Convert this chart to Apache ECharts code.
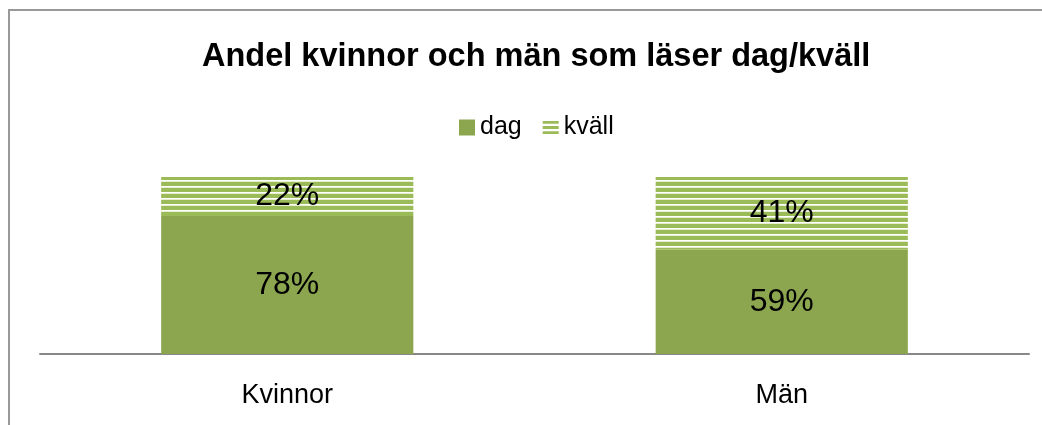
<!DOCTYPE html>
<html>
<head>
<meta charset="utf-8">
<script src="https://cdn.jsdelivr.net/npm/echarts@6/dist/echarts.min.js"></script>
<style>
html,body{margin:0;padding:0;background:#fff;}
#chart{width:1042px;height:425px;}
</style>
</head>
<body>
<div id="chart"></div>
<script>
var titleText = 'Andel kvinnor och män som läser dag/kväll';
var categories = ['Kvinnor', 'Män'];
var seriesNames = ['dag', 'kväll'];
var dagValues = [78, 59];
var kvallValues = [22, 41];

var DAG_COLOR = '#8BA64E';
var KVALL_COLOR = '#9BBB59';

function makeStripes() {
  var c = document.createElement('canvas');
  c.width = 8; c.height = 6;
  var ctx = c.getContext('2d');
  ctx.fillStyle = KVALL_COLOR;
  ctx.fillRect(0, 0, 8, 6);
  ctx.fillStyle = '#ffffff';
  ctx.fillRect(0, 0, 8, 1);
  ctx.fillStyle = '#e4eed0';
  ctx.fillRect(0, 1, 8, 1);
  return c;
}

var chart = echarts.init(document.getElementById('chart'), null, {renderer: 'canvas'});
var font = '"Liberation Sans", Arial, sans-serif';

chart.setOption({
  animation: false,
  backgroundColor: '#ffffff',
  textStyle: {fontFamily: font},
  title: {
    text: titleText,
    left: 197,
    top: 36,
    textStyle: {fontFamily: font, fontSize: 32.5, fontWeight: 'bold', color: '#000'}
  },
  legend: {
    left: 454,
    top: 110,
    itemWidth: 16,
    itemHeight: 16,
    itemGap: 21,
    textStyle: {fontFamily: font, fontSize: 25, color: '#000'},
    data: [
      {name: seriesNames[0], icon: 'rect', itemStyle: {color: DAG_COLOR}},
      {name: seriesNames[1], icon: 'path://M0,0H17V3H0Z M0,5.5H17V8.5H0Z M0,11H17V14H0Z', itemStyle: {color: KVALL_COLOR}}
    ]
  },
  grid: {left: 40, right: 13, top: 177, bottom: 71, containLabel: false},
  xAxis: {
    type: 'category',
    data: categories,
    axisLine: {show: true, lineStyle: {color: '#888', width: 2}},
    axisTick: {show: false},
    axisLabel: {fontFamily: font, fontSize: 27, color: '#000', margin: 28}
  },
  yAxis: {
    type: 'value', min: 0, max: 100, show: false,
    splitLine: {show: false}
  },
  graphic: [{
    type: 'rect', silent: true, z: -1,
    shape: {x: 9, y: 10, width: 2000, height: 1000},
    style: {fill: 'none', stroke: '#999', lineWidth: 2}
  }],
  series: [
    {
      name: seriesNames[0], type: 'bar', stack: 'total', barWidth: '51%',
      data: dagValues,
      itemStyle: {color: DAG_COLOR},
      label: {show: true, position: 'inside', formatter: '{c}%', fontFamily: font, fontSize: 32, color: '#000'}
    },
    {
      name: seriesNames[1], type: 'bar', stack: 'total', barWidth: '51%',
      data: kvallValues,
      itemStyle: {color: {image: makeStripes(), repeat: 'repeat'}},
      label: {show: true, position: 'inside', formatter: '{c}%', fontFamily: font, fontSize: 32, color: '#000'}
    }
  ]
});
</script>
</body>
</html>
